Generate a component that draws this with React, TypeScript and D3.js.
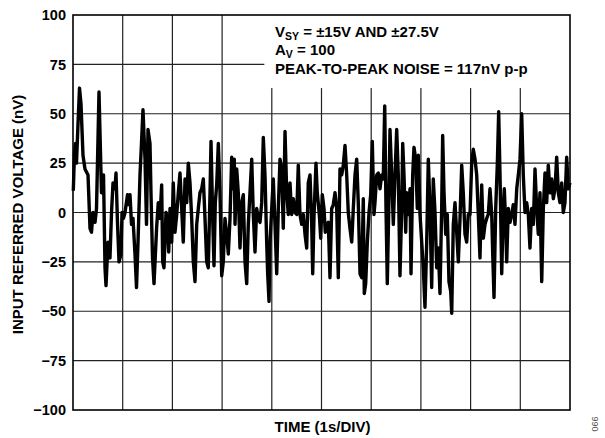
import React from "react";
import * as d3 from "d3";

// time in seconds (1 s/div, 10 divisions)
const times: number[] = [
  0.006, 0.030, 0.050, 0.070, 0.101, 0.131, 0.161, 0.201, 0.241, 0.302, 0.342, 0.372, 0.402, 0.443, 0.473,
  0.523, 0.573, 0.614, 0.644, 0.664, 0.704, 0.744, 0.775, 0.805, 0.845, 0.865, 0.895, 0.926, 0.966, 0.986,
  1.016, 1.046, 1.097, 1.117, 1.147, 1.177, 1.207, 1.247, 1.278, 1.308, 1.348, 1.378, 1.408, 1.449, 1.479,
  1.509, 1.549, 1.569, 1.600, 1.630,
  1.684, 1.716, 1.750, 1.784, 1.805, 1.831, 1.871, 1.897, 1.926, 1.952, 1.986, 2.018, 2.052, 2.087, 2.119,
  2.153, 2.187, 2.219, 2.254, 2.288, 2.320, 2.354, 2.388, 2.421, 2.455, 2.489, 2.521, 2.555, 2.590, 2.622,
  2.656, 2.690, 2.722, 2.757, 2.777, 2.811, 2.837, 2.863, 2.891, 2.924, 2.958, 2.992, 3.024, 3.058, 3.092,
  3.125,
  3.159, 3.193, 3.219, 3.245, 3.260, 3.294, 3.326, 3.360, 3.394, 3.427, 3.461, 3.495, 3.527, 3.561, 3.596,
  3.628, 3.662, 3.696, 3.728, 3.763, 3.797, 3.829, 3.863, 3.897, 3.917, 3.944, 3.964, 3.998, 4.030, 4.064,
  4.099, 4.131, 4.165, 4.199, 4.231, 4.266, 4.300, 4.332, 4.366, 4.400, 4.433, 4.467, 4.501, 4.533, 4.567,
  4.602, 4.634, 4.668, 4.702, 4.734, 4.769, 4.803, 4.823, 4.849,
  4.889, 4.915, 4.956, 4.984, 5.016, 5.050, 5.076, 5.105, 5.137, 5.171, 5.205, 5.237, 5.272, 5.306, 5.338,
  5.372, 5.406, 5.439, 5.473, 5.507, 5.539, 5.573, 5.608, 5.640, 5.674, 5.708, 5.740, 5.775, 5.809, 5.841,
  5.861, 5.889, 5.922, 5.956, 5.990, 6.022, 6.056, 6.076, 6.111, 6.143, 6.177, 6.211, 6.243, 6.272, 6.298,
  6.324, 6.352,
  6.378, 6.412, 6.445, 6.479, 6.513, 6.545, 6.579, 6.614, 6.634, 6.660, 6.694, 6.714, 6.746, 6.781, 6.801,
  6.835, 6.861, 6.895, 6.928, 6.948, 6.982, 7.016, 7.048, 7.082, 7.117, 7.149, 7.183, 7.217, 7.249, 7.284,
  7.318, 7.350, 7.384, 7.418, 7.438, 7.465, 7.499, 7.531, 7.565, 7.600, 7.620, 7.652, 7.686, 7.720, 7.753,
  7.787, 7.821, 7.853, 7.887, 7.921, 7.954,
  7.988, 8.022, 8.054, 8.089, 8.123, 8.155, 8.189, 8.223, 8.256, 8.290, 8.324, 8.356, 8.390, 8.425, 8.445,
  8.471, 8.505, 8.537, 8.565, 8.592, 8.626, 8.658, 8.678, 8.706, 8.726, 8.759, 8.793, 8.827, 8.859, 8.893,
  8.928, 8.960, 8.994, 9.028, 9.060, 9.095, 9.129, 9.161, 9.195, 9.229, 9.262, 9.296, 9.330, 9.362, 9.396,
  9.431, 9.463, 9.497, 9.531, 9.563, 9.598, 9.632, 9.664, 9.698, 9.732, 9.765, 9.799, 9.833, 9.865, 9.899,
  9.933, 9.966, 10.0,
];

// input referred voltage (nV)
const noise: number[] = [
  11, 30, 35, 25, 45, 63, 55, 29, 22, 19, -8, -10, 0, -5, 2,
  61, 10, 19, -28, -37, -15, -23, 0, 15, 12, 20, -5, -25, -21, 0,
  -3, 0, 9, 4, 9, -6, -3, -21, -38, -15, 19, 35, 52, 27, -6,
  42, 35, 10, -23, -36,
  -7, 5, -3, 14, -25, -28, 0, -3, -20, 2, -15, 15, -10, -1, 10,
  20, 2, -15, 17, 5, 25, 15, -3, -25, -35, -6, 2, 10, 12, 17,
  -3, -25, -28, 10, 36, -3, -27, 5, 14, 35, 10, -32, -25, -3, -11,
  -21,
  -3, 28, 12, 27, -6, 22, 10, -18, 5, 9, -25, -36, -6, 10, 27,
  -1, -20, 2, -3, -5, 5, 38, 19, -15, -31, -45, -15, 2, 17, -6,
  -31, 2, 27, 22, -8, 41, 10, -1, 15, -1, 7, 0, -1, 24, -1,
  -6, -1, -11, -18, 15, 19, -6, -31, -2,
  25, 10, -1, -13, 9, 2, -10, -6, -5, -33, 2, 4, 10, 2, -33,
  22, 19, 24, 34, 19, 0, -8, -15, 2, 19, 27, 5, -31, -33, 7,
  -41, -36, -15, 0, 9, 36, -1, 5, 19, 20, 12, 19, 17, 54, 2,
  -36, 0,
  42, 19, -6, 19, 42, 19, -32, 2, 35, 19, -10, 10, -1, 12, -31,
  19, 33, 27, 2, 29, -1, -15, -28, -48, -15, 27, 2, -38, 17, 0,
  -28, -18, -41, 2, 39, 10, -11, -1, -35, -40, -51, -6, 5, -10, -25,
  -3, 24, 10, -11, -15, -1,
  -1, 25, 32, 27, 19, -1, -23, 14, -13, -6, -3, -1, 12, -1, -21,
  -43, 2, 24, 51, 19, -31, 2, 12, -6, -25, 2, -5, -1, 4, -6,
  12, 19, 27, 50, 19, 0, 5, -1, -18, 2, -6, 22, 2, -11, 10,
  -35, 2, 20, 5, 24, 10, 17, 7, 12, 28, 10, 5, 15, 0, 5,
  28, 12, 15,
];

const yTicks: number[] = [100, 75, 50, 25, 0, -25, -50, -75, -100];
const xDivs: number[] = [0, 1, 2, 3, 4, 5, 6, 7, 8, 9, 10];

const W = 605;
const H = 438;
const M = { left: 73, right: 570, top: 15, bottom: 410 };
const FONT = "'Liberation Sans', Arial, Helvetica, sans-serif";

function fmt(v: number): string {
  return v < 0 ? "\u2212" + Math.abs(v) : String(v);
}

export default function App() {
  const x = d3.scaleLinear().domain([0, 10]).range([M.left, M.right]);
  const y = d3.scaleLinear().domain([-100, 100]).range([M.bottom, M.top]);
  const pts: [number, number][] = times.map((t, i) => [t, noise[i]]);
  const line = d3
    .line<[number, number]>()
    .x((d) => x(d[0]))
    .y((d) => y(d[1]))
    .curve(d3.curveLinear);

  const boxX0 = x(3.85);
  const boxY1 = y(63);

  return (
    <svg
      width={W}
      height={H}
      style={{ position: "absolute", left: 0, top: 0, background: "#fff" }}
      fontFamily={FONT}
    >
      <rect x={0} y={0} width={W} height={H} fill="#fff" />
      {/* grid */}
      {yTicks.slice(1, -1).map((v) => (
        <line key={"h" + v} x1={M.left} x2={M.right} y1={y(v)} y2={y(v)} stroke="#222" strokeWidth={1.2} />
      ))}
      {xDivs.slice(1, -1).map((d) => (
        <line key={"v" + d} x1={x(d)} x2={x(d)} y1={M.top} y2={M.bottom} stroke="#222" strokeWidth={1.2} />
      ))}
      {/* annotation background */}
      <rect x={boxX0} y={M.top} width={M.right - boxX0} height={boxY1 - M.top} fill="#fff" />
      {/* trace */}
      <path d={line(pts) || ""} fill="none" stroke="#000" strokeWidth={3.4} strokeLinejoin="round" />
      {/* frame */}
      <rect
        x={M.left}
        y={M.top}
        width={M.right - M.left}
        height={M.bottom - M.top}
        fill="none"
        stroke="#000"
        strokeWidth={1.6}
      />
      {/* y tick labels */}
      {yTicks.map((v) => (
        <text
          key={"t" + v}
          x={66}
          y={y(v)}
          dy="0.36em"
          textAnchor="end"
          fontSize={14.5}
          fontWeight="bold"
        >
          {fmt(v)}
        </text>
      ))}
      {/* axis titles */}
      <text
        transform={`translate(23,${(M.top + M.bottom) / 2 + 2}) rotate(-90)`}
        textAnchor="middle"
        fontSize={15}
        fontWeight="bold"
      >
        INPUT REFERRED VOLTAGE (nV)
      </text>
      <text x={(M.left + M.right) / 2 + 1} y={432} textAnchor="middle" fontSize={15} fontWeight="bold">
        TIME (1s/DIV)
      </text>
      {/* annotation */}
      <g fontSize={15} fontWeight="bold">
        <text x={275} y={37}>
          V<tspan fontSize={10.5} dy={3}>SY</tspan>
          <tspan dy={-3}> = ±15V AND ±27.5V</tspan>
        </text>
        <text x={275} y={55}>
          A<tspan fontSize={10.5} dy={3}>V</tspan>
          <tspan dy={-3}> = 100</tspan>
        </text>
        <text x={275} y={74}>PEAK-TO-PEAK NOISE = 117nV p-p</text>
      </g>
      <text
        transform="translate(598,424) rotate(-90)"
        textAnchor="middle"
        fontSize={9}
        fill="#555"
      >
        066
      </text>
    </svg>
  );
}
